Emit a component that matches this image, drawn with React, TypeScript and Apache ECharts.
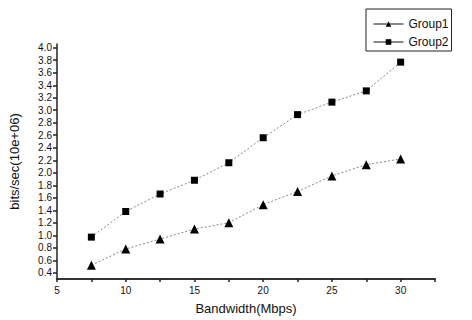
import React, { useEffect, useRef } from "react";
import * as echarts from "echarts";

const bandwidth = [7.5, 10, 12.5, 15, 17.5, 20, 22.5, 25, 27.5, 30];
const group1 = [0.52, 0.78, 0.94, 1.1, 1.2, 1.49, 1.7, 1.95, 2.13, 2.22];
const group2 = [0.97, 1.38, 1.66, 1.88, 2.16, 2.56, 2.93, 3.13, 3.31, 3.77];
const xTickLabels = [5, 10, 15, 20, 25, 30];
const xTicks = [5, 7.5, 10, 12.5, 15, 17.5, 20, 22.5, 25, 27.5, 30, 32.5];
const yTickLabels = [0.4, 0.6, 0.8, 1.0, 1.2, 1.4, 1.6, 1.8, 2.0, 2.2, 2.4, 2.6, 2.8, 3.0, 3.2, 3.4, 3.6, 3.8, 4.0];

export default function App() {
  const ref = useRef<HTMLDivElement>(null);
  useEffect(() => {
    if (!ref.current) return;
    const chart = echarts.init(ref.current, null, { renderer: "svg" });
    const font = "Arial, 'Liberation Sans', sans-serif";
    chart.setOption({
      animation: false,
      backgroundColor: "#fff",
      grid: { left: 54, right: 37, top: 44, bottom: 38, containLabel: false },
      legend: {
        orient: "vertical",
        left: 366,
        top: 9,
        padding: [8, 3, 2, 7],
        itemGap: 4,
        itemWidth: 30,
        itemHeight: 7,
        borderColor: "#222",
        borderWidth: 1,
        backgroundColor: "#fff",
        textStyle: { fontFamily: font, fontSize: 12, color: "#111", lineHeight: 14, height: 14 },
        lineStyle: { color: "#111", width: 1, type: "solid" },
        data: ["Group1", "Group2"],
      },
      xAxis: {
        type: "value",
        min: 5,
        max: 32.5,
        name: "Bandwidth(Mbps)",
        nameLocation: "middle",
        nameGap: 23,
        nameTextStyle: { fontFamily: font, fontSize: 13, color: "#111" },
        axisLine: { show: true, lineStyle: { color: "#333", width: 2 } },
        axisTick: { show: true, length: 3, customValues: xTicks, lineStyle: { color: "#222", width: 1.5 } },
        axisLabel: { customValues: xTickLabels, fontFamily: font, fontSize: 10, color: "#111", margin: 6 },
        splitLine: { show: false },
      },
      yAxis: {
        type: "value",
        min: 0.3,
        max: 4.06,
        name: "bits/sec(10e+06)",
        nameLocation: "middle",
        nameGap: 36,
        nameRotate: 90,
        nameTextStyle: { fontFamily: font, fontSize: 13, color: "#111" },
        axisLine: { show: true, lineStyle: { color: "#222", width: 1.5 } },
        axisTick: { show: true, length: 4, customValues: yTickLabels, lineStyle: { color: "#222", width: 1.5 } },
        axisLabel: {
          customValues: yTickLabels,
          fontFamily: font,
          fontSize: 10,
          color: "#111",
          margin: 5,
          formatter: (v: number) => v.toFixed(1),
        },
        splitLine: { show: false },
      },
      series: [
        {
          name: "Group1",
          type: "line",
          data: bandwidth.map((x, i) => [x, group1[i]]),
          symbol: "triangle",
          symbolSize: 9,
          itemStyle: { color: "#000" },
          lineStyle: { color: "#888", width: 1, type: [2, 2] },
        },
        {
          name: "Group2",
          type: "line",
          data: bandwidth.map((x, i) => [x, group2[i]]),
          symbol: "rect",
          symbolSize: 7,
          itemStyle: { color: "#000" },
          lineStyle: { color: "#888", width: 1, type: [2, 2] },
        },
      ],
    });
    return () => chart.dispose();
  }, []);
  return <div ref={ref} style={{ width: 472, height: 320, position: "absolute", left: 0, top: 0 }} />;
}
